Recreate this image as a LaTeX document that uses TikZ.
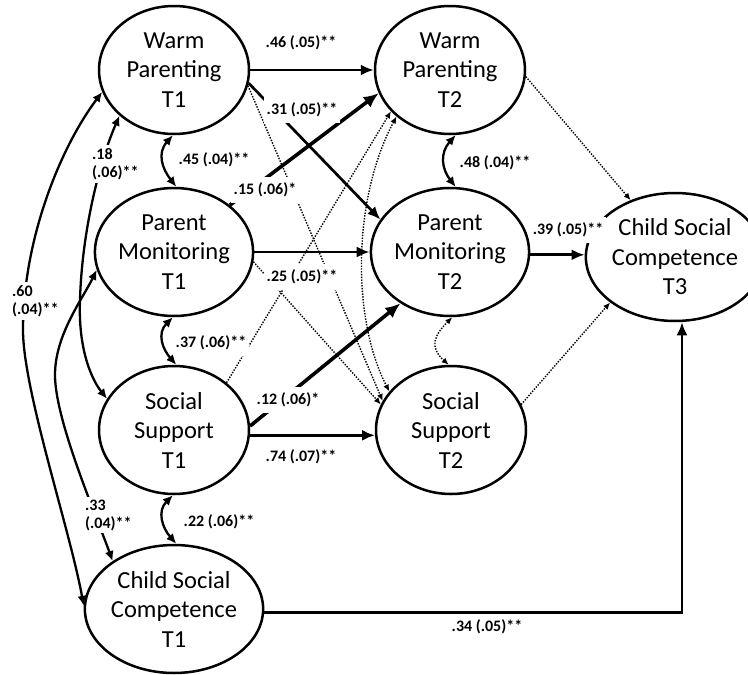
\documentclass[tikz,border=0pt]{standalone}
\usepackage{fontspec}
\setmainfont{Carlito}
\usetikzlibrary{arrows.meta,shapes.geometric}
\begin{document}
\begin{tikzpicture}[x=1pt,y=-1pt,
  var/.style={draw, line width=2.5pt, ellipse, minimum width=150pt, minimum height=128pt,
    inner sep=0pt, align=center, font=\fontsize{24.5}{29.5}\selectfont},
  sigpath/.style={-{Latex[length=13pt,width=11pt]}, line width=2.7pt},
  bigpath/.style={-{Latex[length=15pt,width=13pt]}, line width=3.6pt},
  cov/.style={{Latex[length=10pt,width=9pt]}-{Latex[length=10pt,width=9pt]}, line width=2.3pt},
  nspath/.style={-{Latex[length=7pt,width=6pt]}, line width=1.4pt, dash pattern=on 1.4pt off 1.4pt},
  nscov/.style={{Latex[length=7pt,width=6pt]}-{Latex[length=7pt,width=6pt]}, line width=1.4pt, dash pattern=on 1.4pt off 1.4pt},
  lab/.style={fill=white, inner xsep=3pt, inner ysep=6pt, font=\bfseries\fontsize{16}{18}\selectfont},
  lab2/.style={fill=white, inner xsep=3pt, inner ysep=3pt, align=left, font=\bfseries\fontsize{16}{18}\selectfont}
]
\useasboundingbox (0,0) rectangle (748,675);

% variables
\node[var] (wp1) at (174,70) {Warm\\Parenting\\T1};
\node[var] (pm1) at (174,252) {Parent\\Monitoring\\T1};
\node[var] (ss1) at (174,430) {Social\\Support\\T1};
\node[var] (csc1) at (174,609) {Child Social\\Competence\\T1};
\node[var] (wp2) at (450,70) {Warm\\Parenting\\T2};
\node[var] (pm2) at (450,252) {Parent\\Monitoring\\T2};
\node[var] (ss2) at (451,430) {Social\\Support\\T2};
\node[var, minimum width=146pt] (csc3) at (675,257) {Child Social\\Competence\\T3};

% non-significant paths
\draw[nspath] (wp1.-12) -- (ss2.157);
\draw[nspath] (pm1.-7) -- (ss2.160);
\draw[nspath] (ss1.42) -- (wp2.215);
\draw[nscov] (wp2.221) .. controls (352,200) and (352,320) .. (ss2.148);
\draw[nscov] (pm2.-88) .. controls +(-18,18) and +(-20,-18) .. (ss2.92);
\draw[nspath] (wp2.-5) -- (csc3.128);
\draw[nspath] (ss2.20) -- (csc3.215);

% significant paths
\draw[sigpath] (wp1.east) -- (wp2.west);
\draw[sigpath] (pm1.east) -- (pm2.west);
\draw[sigpath] (ss1.-4) -- (ss2.184);
\draw[sigpath] (wp1.-10) -- (pm2.155);
\draw[bigpath] (pm1.40) -- (wp2.198);
\draw[bigpath] (ss1.3) -- (pm2.226);
\draw[sigpath] (pm2.-2) -- (pm2.-2 -| csc3.west);
\draw[sigpath] (csc1.-2) -| ([xshift=7pt]csc3.south);

% covariances
\draw[cov] (wp1.-91) .. controls +(-16,18) and +(-14,-18) .. (pm1.88);
\draw[cov] (pm1.-91) .. controls +(-16,16) and +(-14,-16) .. (ss1.88);
\draw[cov] (ss1.-91) .. controls +(-16,16) and +(-14,-16) .. (csc1.88);
\draw[cov] (wp2.-85) .. controls +(-16,18) and +(-14,-18) .. (pm2.85);
\draw[cov] (wp1.197) .. controls (60,148) and (23,240) .. (23,330) .. controls (23,390) and (70,530) .. (csc1.178);
\draw[cov] (wp1.220) .. controls (100,160) and (82,230) .. (80,300) .. controls (78,350) and (92,380) .. (ss1.155);
\draw[cov] (pm1.193) .. controls (82,300) and (55,335) .. (55,375) .. controls (55,420) and (96,515) .. (csc1.142);

% labels
\node[lab] (l46) at (301,43) {.46 (.05)**};
\node[lab] (l31) at (302,110) {.31 (.05)**};
\node[lab] (l45) at (214,160) {.45 (.04)**};
\node[lab] (l15) at (265,190) {.15 (.06)*};
\node[lab] (l25) at (302,277) {.25 (.05)**};
\node[lab] (l37) at (211,343) {.37 (.06)**};
\node[lab] (l12) at (288,400) {.12 (.06)*};
\node[lab] (l74) at (301,457) {.74 (.07)**};
\node[lab] (l22) at (219,522) {.22 (.06)**};
\node[lab] (l48) at (495,163) {.48 (.04)**};
\node[lab] (l39) at (568,230) {.39 (.05)**};
\node[lab] (l34) at (487,627) {.34 (.05)**};
\node[lab2, anchor=west] (l18) at (89,164) {.18\\(.06)**};
\node[lab2, anchor=west] (l60) at (9,301) {.60\\(.04)**};
\node[lab2, anchor=west] (l33) at (82,515) {.33\\(.04)**};
\end{tikzpicture}
\end{document}
